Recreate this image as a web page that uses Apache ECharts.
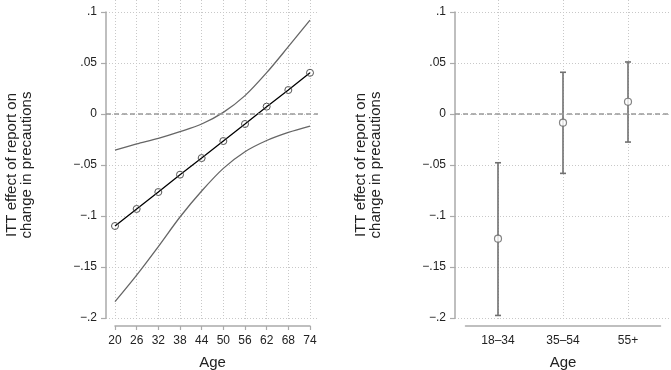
<!DOCTYPE html>
<html lang="en">
  <head>
    <meta charset="UTF-8" />
    <title>ITT effect by age</title>
    <style>
      body {
        margin: 0;
        overflow: hidden;
        background: #fff;
      }
    </style>
    <script src="https://cdn.jsdelivr.net/npm/echarts@6/dist/echarts.min.js"></script>
  </head>

  <body>
    <div id="chart" style="width: 671px; height: 370px"></div>
    <script>
      // left panel: linear age interaction, estimate with 95% CI
      var ages = ["20", "26", "32", "38", "44", "50", "56", "62", "68", "74"];
      var estimate = [-0.1098, -0.0931, -0.0765, -0.0595, -0.0432, -0.0265, -0.0098, 0.0072, 0.0235, 0.0404];
      var ciUpper = [-0.0353, -0.0294, -0.0239, -0.0173, -0.0098, 0.0016, 0.018, 0.0405, 0.066, 0.092];
      var ciLower = [-0.184, -0.158, -0.130, -0.101, -0.0755, -0.0533, -0.037, -0.026, -0.018, -0.0118];

      // right panel: age groups
      var groups = ["18–34", "35–54", "55+"];
      var groupEst = [-0.1222, -0.0085, 0.012];
      var groupLow = [-0.1975, -0.0582, -0.0275];
      var groupHigh = [-0.0478, 0.0409, 0.051];

      var yTitle = "ITT effect of report on\nchange in precautions";
      var font = "Liberation Sans, Arial, Helvetica, sans-serif";

      // Stata style tick labels: .05, -.1, 0
      function stataNum(v) {
        var s = String(Math.round(v * 1000) / 1000);
        s = s.replace("0.", ".");
        return s.replace("-", "\u2212");
      }

      var axisGray = "#aaaaaa";
      var gridLine = { show: true, lineStyle: { color: "#c8c8c8", type: [1, 2], width: 1 } };

      function valueY(gi, shown) {
        var ax = {
          gridIndex: gi,
          type: "value",
          min: -0.2,
          max: 0.1,
          show: shown,
          splitLine: { show: false },
        };
        if (shown) {
          ax.interval = 0.05;
          ax.axisLine = { show: true, lineStyle: { color: axisGray, width: 1.5 } };
          ax.axisTick = { show: true, length: 5, lineStyle: { color: axisGray, width: 1.2 } };
          ax.axisLabel = {
            margin: 9,
            color: "#222",
            fontSize: 12,
            fontFamily: font,
            formatter: stataNum,
          };
          ax.splitLine = gridLine;
          ax.name = yTitle;
          ax.nameLocation = "middle";
          ax.nameGap = 72;
          ax.nameTextStyle = { color: "#222", fontSize: 15, lineHeight: 15, fontFamily: font };
        }
        return ax;
      }

      function hiddenAxis(gi) {
        return { gridIndex: gi, type: "value", show: false, min: 0, max: 1 };
      }

      function gridOnlyX(gi, cats) {
        return {
          gridIndex: gi,
          type: "category",
          data: cats,
          boundaryGap: false,
          axisLine: { show: false },
          axisTick: { show: false },
          axisLabel: { show: false },
          splitLine: gridLine,
        };
      }

      function ageAxis(gi, cats, gap, ticks) {
        return {
          gridIndex: gi,
          type: "category",
          data: cats,
          boundaryGap: gap,
          offset: 8,
          axisLine: { show: true, onZero: false, lineStyle: { color: axisGray, width: 1.5 } },
          axisTick: { show: ticks, length: 4, lineStyle: { color: axisGray, width: 1.2 } },
          axisLabel: { margin: 9, color: "#222", fontSize: 12, fontFamily: font },
          splitLine: { show: false },
          name: "Age",
          nameLocation: "middle",
          nameGap: 29,
          nameTextStyle: { color: "#222", fontSize: 15, fontFamily: font },
        };
      }

      var zeroLine = {
        silent: true,
        symbol: "none",
        label: { show: false },
        lineStyle: { color: "#999", type: [5, 3], width: 1.5 },
        data: [{ yAxis: 0 }],
      };

      function mkGrid(l, r, t, b) {
        return { left: l, right: r, top: t, bottom: b, outerBoundsMode: "none", containLabel: false };
      }

      var option = {
        animation: false,
        backgroundColor: "#fff",
        textStyle: { fontFamily: font },
        grid: [
          mkGrid(115, 361, 12, 52),
          mkGrid(106, 353, 12, 52),
          mkGrid(115, 361, 0, 50),
          mkGrid(465.5, 10.5, 12, 52),
          mkGrid(455, 1, 12, 52),
          mkGrid(498, 43, 0, 50),
        ],
        xAxis: [
          ageAxis(0, ages, false, true),
          hiddenAxis(1),
          gridOnlyX(2, ages),
          ageAxis(3, groups, true, false),
          hiddenAxis(4),
          gridOnlyX(5, groups),
        ],
        yAxis: [
          valueY(0, false),
          valueY(1, true),
          valueY(2, false),
          valueY(3, false),
          valueY(4, true),
          valueY(5, false),
        ],
        series: [
          {
            type: "line",
            xAxisIndex: 1,
            yAxisIndex: 1,
            data: [],
            markLine: zeroLine,
          },
          {
            type: "line",
            xAxisIndex: 0,
            yAxisIndex: 0,
            data: ciUpper,
            smooth: 0.3,
            showSymbol: false,
            lineStyle: { color: "#666", width: 1.3 },
          },
          {
            type: "line",
            xAxisIndex: 0,
            yAxisIndex: 0,
            data: ciLower,
            smooth: 0.3,
            showSymbol: false,
            lineStyle: { color: "#666", width: 1.3 },
          },
          {
            type: "line",
            xAxisIndex: 0,
            yAxisIndex: 0,
            data: estimate,
            symbol: "circle",
            symbolSize: 7,
            lineStyle: { color: "#000", width: 1.3 },
            itemStyle: { color: "rgba(0,0,0,0)", borderColor: "#555", borderWidth: 1 },
            z: 3,
          },
          {
            type: "line",
            xAxisIndex: 4,
            yAxisIndex: 4,
            data: [],
            markLine: zeroLine,
          },
          {
            type: "custom",
            xAxisIndex: 3,
            yAxisIndex: 3,
            data: groups.map(function (g, i) {
              return [i, groupLow[i], groupHigh[i]];
            }),
            renderItem: function (params, api) {
              var lo = api.coord([api.value(0), api.value(1)]);
              var hi = api.coord([api.value(0), api.value(2)]);
              var w = 3;
              var st = { stroke: "#707070", lineWidth: 1.6 };
              return {
                type: "group",
                children: [
                  { type: "line", shape: { x1: lo[0], y1: lo[1], x2: hi[0], y2: hi[1] }, style: st },
                  { type: "line", shape: { x1: lo[0] - w, y1: lo[1], x2: lo[0] + w, y2: lo[1] }, style: st },
                  { type: "line", shape: { x1: hi[0] - w, y1: hi[1], x2: hi[0] + w, y2: hi[1] }, style: st },
                ],
              };
            },
            z: 2,
          },
          {
            type: "scatter",
            xAxisIndex: 3,
            yAxisIndex: 3,
            data: groupEst,
            symbol: "circle",
            symbolSize: 7,
            itemStyle: { color: "#fff", borderColor: "#666", borderWidth: 1.2 },
            z: 3,
          },
        ],
      };

      var myChart = echarts.init(document.getElementById("chart"));
      myChart.setOption(option);
    </script>
  </body>
</html>
